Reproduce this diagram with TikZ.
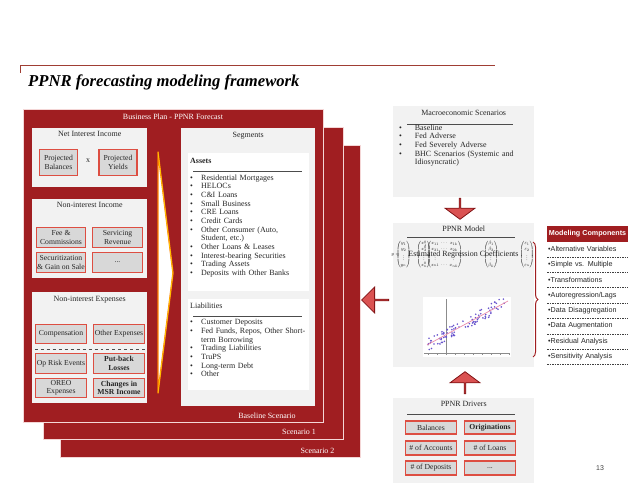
\documentclass[tikz,border=0pt]{standalone}
\usepackage{amsmath}
\usepackage{graphicx}
\usepackage{fontspec}
\setmainfont{Liberation Serif}
\setsansfont{Liberation Sans}
\usetikzlibrary{positioning,shapes.arrows,decorations.pathreplacing}
\definecolor{pwcred}{RGB}{160,30,33}
\definecolor{boxline}{RGB}{221,78,66}
\definecolor{boxfill}{RGB}{216,216,216}
\definecolor{panelgray}{RGB}{242,242,242}
\definecolor{arrowred}{RGB}{218,82,82}
\definecolor{arrowedge}{RGB}{130,20,22}
\definecolor{rimpink}{RGB}{244,214,214}
\definecolor{titleline}{RGB}{160,62,52}
\definecolor{ptblue}{RGB}{105,85,205}
\definecolor{trendpink}{RGB}{235,140,170}
\newcommand{\ppbul}[1][11bp]{\makebox[#1][l]{\textbullet}}
\newcommand{\ppind}[1][11bp]{\hspace*{#1}}

\begin{document}
\begin{tikzpicture}[
    x=1bp, y=-1bp,
    nosep/.style={inner sep=0},
    panel/.style={fill=pwcred, draw=rimpink, line width=0.8bp, anchor=north west, nosep},
    graybox/.style={fill=panelgray, anchor=north west, nosep},
    whitebox/.style={fill=white, anchor=north west, nosep},
    hdr/.style={font=\fontsize{8}{9}\selectfont, text=black!85, nosep},
    ptext/.style={hdr, text=white},
    itembox/.style={draw=boxline, line width=1.5bp, fill=boxfill, align=center, nosep, text=black!85, font=\fontsize{7.7}{8.4}\selectfont},
    blist/.style={hdr, anchor=north west, align=left, text width=118bp, font=\fontsize{8}{8.7}\selectfont},
    rulebar/.style={draw=black!70, line width=0.5bp},
    blockarrow/.style={single arrow, draw=arrowedge, fill=arrowred, line width=0.8bp, nosep, single arrow head indent=0bp},
    mathbit/.style={nosep, font=\fontsize{8}{9}\selectfont, text=black!90},
    mchead/.style={fill=pwcred, text=white, font=\sffamily\bfseries\fontsize{7.2}{8}\selectfont, minimum width=81bp, minimum height=16bp, nosep},
    mcitem/.style={anchor=west, font=\sffamily\fontsize{7.2}{8}\selectfont, text width=79bp, inner xsep=1bp, inner ysep=0, minimum height=15.4bp, align=left, text=black!85},
    mcdash/.style={draw=black!75, line width=0.5bp, dash pattern=on 1.5bp off 1bp}]
\useasboundingbox (0,0) rectangle (638,493);
\fill[white] (0,0) rectangle (638,493);

% title
\draw[titleline, line width=0.8bp] (20,73) -- (20,65) -- (495,65);
\node[anchor=base west, nosep, font=\bfseries\itshape\fontsize{16.7}{18}\selectfont] (title) at (28,87) {PPNR forecasting modeling framework};

% scenario panels
\node[panel, minimum width=300bp, minimum height=312bp] (scen2) at (60,145) {};
\node[panel, minimum width=300bp, minimum height=312bp] (scen1) at (43,127) {};
\node[panel, minimum width=300bp, minimum height=313bp] (base) at (23,109) {};
\node[ptext] (scen2lbl) at (317.5,451) {Scenario 2};
\node[ptext] (scen1lbl) at (299,432) {Scenario 1};
\node[ptext] (baselbl) at (267,416) {Baseline Scenario};
\node[ptext] (bplan) at (173,117) {Business Plan - PPNR Forecast};

% net interest income
\node[graybox, minimum width=115bp, minimum height=59bp] (nii) at (32,128) {};
\node[hdr, below=3bp of nii.north] (niititle) {Net Interest Income};
\node[itembox, minimum width=38bp, minimum height=26bp] (pbal) at (58.5,162.5) {Projected\\Balances};
\node[itembox, minimum width=38bp, minimum height=26bp] (pyld) at (118,162.5) {Projected\\Yields};
\node[hdr] (times) at (88,161) {x};

% non-interest income
\node[graybox, minimum width=115bp, minimum height=79bp] (nonii) at (32,199) {};
\node[hdr, below=3bp of nonii.north] (noniititle) {Non-interest Income};
\node[itembox, minimum width=49bp, minimum height=20bp] (fee) at (61,237.5) {Fee \&\\Commissions};
\node[itembox, minimum width=50bp, minimum height=20bp] (svc) at (117.5,237.5) {Servicing\\Revenue};
\node[itembox, minimum width=49bp, minimum height=20bp] (sec) at (61,262.5) {Securitization\\\& Gain on Sale};
\node[itembox, minimum width=50bp, minimum height=20bp] (incdots) at (117.5,262.5) {...};

% non-interest expenses
\node[graybox, minimum width=115bp, minimum height=111bp] (nie) at (32,292) {};
\node[hdr, below=4bp of nie.north] (nietitle) {Non-interest Expenses};
\node[itembox, minimum width=51bp, minimum height=19bp] (comp) at (61,334) {Compensation};
\node[itembox, minimum width=51bp, minimum height=19bp] (oexp) at (119,334) {Other Expenses};
\draw[rulebar, dashed] ([yshift=-4.5bp]comp.south west) -- ([yshift=-4.5bp]oexp.south east);
\node[itembox, minimum width=51bp, minimum height=20bp] (oprisk) at (61,363.5) {Op Risk Events};
\node[itembox, minimum width=51bp, minimum height=20bp, font=\bfseries\fontsize{7.7}{8.4}\selectfont] (putback) at (119,363.5) {Put-back\\Losses};
\node[itembox, minimum width=51bp, minimum height=19bp] (oreo) at (61,388) {OREO\\Expenses};
\node[itembox, minimum width=51bp, minimum height=19bp, font=\bfseries\fontsize{7.7}{8.4}\selectfont] (msr) at (119,388) {Changes in\\MSR Income};

% chevron
\draw[draw=orange, line width=1.4bp, fill=white, line join=round] (158,152) -- (173,273) -- (158,393) -- cycle;
\draw[draw=yellow!80!orange, line width=0.5bp, line join=round] (158,152) -- (173,273) -- (158,393);

% segments
\node[graybox, minimum width=134bp, minimum height=278bp] (seg) at (181,128) {};
\node[hdr, below=4bp of seg.north] (segtitle) {Segments};
\node[whitebox, minimum width=121bp, minimum height=138bp] (assets) at (188,153) {};
\node[hdr, anchor=west, font=\bfseries\fontsize{8}{9}\selectfont] (assetstitle) at (190,161) {Assets};
\draw[rulebar] (193,171) -- (302,171);
\node[blist] (assetlist) at (190,174.3) {\ppbul Residential Mortgages\\
\ppbul HELOCs\\
\ppbul C\&I Loans\\
\ppbul Small Business\\
\ppbul CRE Loans\\
\ppbul Credit Cards\\
\ppbul Other Consumer (Auto,\\
\ppind Student, etc.)\\
\ppbul Other Loans \& Leases\\
\ppbul Interest-bearing Securities\\
\ppbul Trading Assets\\
\ppbul Deposits with Other Banks};
\node[whitebox, minimum width=121bp, minimum height=91bp] (liab) at (188,299) {};
\node[hdr, anchor=west] (liabtitle) at (190,306) {Liabilities};
\draw[rulebar] (193,316) -- (302,316);
\node[blist] (liablist) at (190,319.3) {\ppbul Customer Deposits\\
\ppbul Fed Funds, Repos, Other Short-\\
\ppind term Borrowing\\
\ppbul Trading Liabilities\\
\ppbul TruPS\\
\ppbul Long-term Debt\\
\ppbul Other};

% macroeconomic scenarios
\node[graybox, minimum width=141bp, minimum height=91bp] (macro) at (393,106) {};
\node[hdr, below=4bp of macro.north] (macrotitle) {Macroeconomic Scenarios};
\draw[rulebar] (407,124) -- (513,124);
\node[blist] (macrolist) at (399,124.3) {\ppbul[13bp] Baseline\\
\ppbul[13bp] Fed Adverse\\
\ppbul[13bp] Fed Severely Adverse\\
\ppbul[13bp] BHC Scenarios (Systemic and\\
\ppind[13bp] Idiosyncratic)};

\node[blockarrow, rotate=-90, minimum height=21bp, minimum width=30bp, single arrow head extend=7bp, single arrow tip angle=107] (darr) at (460,208.5) {};

% PPNR model
\node[graybox, minimum width=141bp, minimum height=144bp] (model) at (393,223) {};
\node[hdr, below=3bp of model.north] (modeltitle) {PPNR Model};
\draw[rulebar] (407,237) -- (515,237);
\node[mathbit] (fy) at (395.5,254.5) {\scalebox{0.6}{$y=$}};
\node[mathbit] (fv1) at (403.5,254.5) {\scalebox{0.6}{$\begin{pmatrix}y_1\\y_2\\\vdots\\y_n\end{pmatrix}$}};
\node[mathbit] (fv2) at (424,254.5) {\scalebox{0.6}{$\begin{pmatrix}x_1^0\\x_2^0\\\vdots\\x_n^0\end{pmatrix}$}};
\node[mathbit] (fmat) at (444.5,254.5) {\scalebox{0.6}{\setlength\arraycolsep{1.5pt}$\begin{pmatrix}x_{11}&\cdots&x_{1k}\\x_{21}&\cdots&x_{2k}\\\vdots&&\vdots\\x_{n1}&\cdots&x_{nk}\end{pmatrix}$}};
\node[mathbit] (fv4) at (491,254.5) {\scalebox{0.6}{$\begin{pmatrix}\beta_1\\\beta_2\\\vdots\\\beta_k\end{pmatrix}$}};
\node[mathbit] (fv5) at (527,254.5) {\scalebox{0.6}{$\begin{pmatrix}\varepsilon_1\\\varepsilon_2\\\vdots\\\varepsilon_n\end{pmatrix}$}};
\node[hdr] (coef) at (463.5,254.5) {Estimated Regression Coefficients};

% scatter plot
\node[whitebox, minimum width=88bp, minimum height=60bp] (plot) at (423,297) {};
\draw[black!45, line width=0.4bp] (446,299) -- (446,354);
\draw[black!45, line width=0.4bp] (424,353) -- (510,353);
\foreach \tk in {428,437,...,509} \draw[black!45, line width=0.3bp] (\tk,353) -- (\tk,354.5);
\pgfmathsetseed{11}
\foreach \k in {1,...,95}{
    \pgfmathsetmacro{\px}{428+78*rnd}
    \pgfmathsetmacro{\py}{345-0.55*(\px-428)+6.5*rand}
    \fill[ptblue] (\px,\py) circle[radius=0.9bp];
}
\draw[trendpink, line width=0.7bp] (427,345) -- (508,301);

\node[blockarrow, rotate=180, minimum height=27bp, minimum width=26bp, single arrow head extend=6.5bp, single arrow tip angle=90] (larr) at (375.5,300) {};
\node[blockarrow, rotate=90, minimum height=22bp, minimum width=30bp, single arrow head extend=7bp, single arrow tip angle=107] (uarr) at (465,383) {};

% PPNR drivers
\node[graybox, minimum width=141bp, minimum height=85bp] (drv) at (393,398) {};
\node[hdr, below=3bp of drv.north] (drvtitle) {PPNR Drivers};
\draw[rulebar] (407,414) -- (515,414);
\node[itembox, minimum width=51bp, minimum height=13bp] (bal) at (431,427.5) {Balances};
\node[itembox, minimum width=51bp, minimum height=13bp, font=\bfseries\fontsize{7.7}{8.4}\selectfont] (orig) at (490,427.5) {Originations};
\node[itembox, minimum width=51bp, minimum height=14bp] (nacc) at (431,448) {\# of Accounts};
\node[itembox, minimum width=51bp, minimum height=14bp] (nloan) at (490,448) {\# of Loans};
\node[itembox, minimum width=51bp, minimum height=14bp] (ndep) at (431,468) {\# of Deposits};
\node[itembox, minimum width=51bp, minimum height=14bp] (drvdots) at (490,468) {...};

% modeling components
\draw[decorate, decoration={brace, amplitude=5bp}, draw=pwcred, line width=1bp] (533,242) -- (533,357);
\node[mchead] (mchd) at (587.5,234) {Modeling Components};
\foreach \t [count=\i] in {Alternative Variables, Simple vs. Multiple, Transformations, Autoregression/Lags, Data Disaggregation, Data Augmentation, Residual Analysis, Sensitivity Analysis}{
    \node[mcitem] (mc\i) at (547,{249+15.4*(\i-1)}) {\textbullet\t};
    \draw[mcdash] (mc\i.south west) -- (mc\i.south east);
}

\node[nosep, font=\sffamily\fontsize{7}{8}\selectfont, text=black!75] (pagenum) at (600,468) {13};
\end{tikzpicture}
\end{document}
